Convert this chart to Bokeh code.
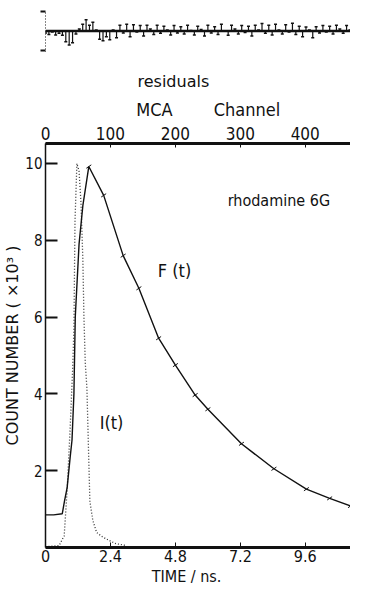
from bokeh.plotting import figure
from bokeh.models import Range1d, LinearAxis, FixedTicker, Label, Span
from bokeh.layouts import column
from bokeh.embed import file_html
from bokeh.resources import INLINE

# ---- data ----
# fluorescence decay F(t): time (ns), counts (x10^3)
f_time = [0.0, 0.3, 0.62, 0.7, 0.8, 0.91, 0.98, 1.05, 1.1, 1.24, 1.38, 1.6,
          2.15, 2.87, 3.45, 4.18, 4.8, 5.53, 6.0, 7.24, 8.44, 9.64, 10.5, 11.27]
f_counts = [0.85, 0.85, 0.88, 1.2, 1.56, 2.34, 2.8, 4.0, 6.0, 7.9, 8.9, 9.92,
            9.17, 7.6, 6.75, 5.45, 4.75, 3.97, 3.6, 2.7, 2.05, 1.52, 1.28, 1.08]
# lamp profile I(t)
i_time = [0.0, 0.5, 0.69, 0.8, 0.91, 1.0, 1.05, 1.09, 1.16, 1.24, 1.31, 1.38,
          1.42, 1.47, 1.53, 1.6, 1.64, 1.75, 1.89, 2.1, 2.36, 2.6, 3.0]
i_counts = [0.02, 0.05, 0.3, 1.5, 3.1, 4.6, 5.7, 8.5, 10.0, 9.8, 9.0, 7.5,
            6.0, 4.8, 4.15, 2.26, 1.2, 0.7, 0.39, 0.28, 0.18, 0.1, 0.05]
# weighted residuals, one value every 0.125 ns from t = 0
res_step = 0.125
res_values = [-0.10, -0.18, -0.05, -0.20, -0.12, -0.22, -0.55, -0.72, -0.60, -0.15,
              0.10, 0.35, 0.58, 0.30, 0.45, 0.05, -0.42, -0.50, -0.30, -0.45,
              0.05, -0.35, 0.30, -0.10, 0.35, -0.30, 0.32, -0.05, 0.28, -0.25,
              0.30, 0.10, -0.18, 0.30, -0.12, 0.25, 0.05, -0.20, 0.28, -0.10,
              0.22, -0.15, 0.30, 0.02, -0.20, 0.25, 0.08, -0.25, 0.30, -0.10,
              0.22, -0.18, 0.35, 0.00, -0.22, 0.30, 0.10, -0.15, 0.28, -0.08,
              0.25, -0.25, 0.30, 0.05, 0.38, -0.12, 0.30, -0.20, 0.35, 0.05,
              -0.15, 0.32, -0.05, 0.40, -0.18, 0.25, -0.30, 0.20, 0.05, -0.35,
              0.22, -0.10, 0.28, -0.05, 0.25, -0.15, 0.30, 0.10, -0.12, 0.28, 0.05]
res_time = [i * res_step for i in range(len(res_values))]

time_ticks = [0, 2.4, 4.8, 7.2, 9.6]
channel_ticks = [0, 100, 200, 300, 400]
count_ticks = [2, 4, 6, 8, 10]
res_ticks = [-1, 1]

FONT = "DejaVu Sans Condensed"
FONT2 = "DejaVu Sans"
W = 350
INK = "#111111"
NB = "\u00a0"

x_range = Range1d(0, 11.27)

# ---- residual panel ----
res = figure(width=W, height=52, x_range=x_range, y_range=Range1d(-1.10, 1.05),
             output_backend="svg", toolbar_location=None,
             x_axis_location=None, y_axis_location=None,
             min_border_left=40, min_border_right=0, min_border_top=10, min_border_bottom=0)
res.outline_line_color = None
res.grid.visible = False
rax = LinearAxis(ticker=FixedTicker(ticks=res_ticks), major_tick_out=5, major_tick_in=0,
                 major_tick_line_width=2, major_tick_line_color=INK,
                 axis_line_dash="1 2", axis_line_color=INK,
                 major_label_text_font_size="1px", major_label_text_color=None,
                 minor_tick_line_color=None)
res.add_layout(rax, "left")
res.add_layout(Span(location=0, dimension="width", line_color=INK, line_width=2.5))
res.segment(res_time, [0] * len(res_time), res_time, res_values, line_color=INK, line_width=1.2)
res.scatter(res_time, res_values, marker="dash", size=3, line_color=INK, line_width=1.5)

# ---- main panel ----
p = figure(width=W, height=536, x_range=x_range, y_range=Range1d(0, 10.52),
           output_backend="svg", toolbar_location=None,
           x_axis_location=None, y_axis_location=None,
           min_border_left=40, min_border_right=0, min_border_top=91, min_border_bottom=41)
p.outline_line_color = None
p.grid.visible = False
p.extra_x_ranges = {"mca": Range1d(0, 310 / 0.66)}

common = dict(minor_tick_line_color=None, axis_line_color=INK, major_tick_line_color=INK,
              major_label_text_font=FONT, major_label_text_color=INK,
              axis_label_text_font=FONT, axis_label_text_font_style="normal",
              axis_label_text_color=INK)

bottom = LinearAxis(ticker=FixedTicker(ticks=time_ticks), axis_label="TIME / ns." + NB * 5,
                    major_tick_in=5, major_tick_out=0, axis_line_width=3,
                    major_label_text_font_size="16px", major_label_standoff=2,
                    axis_label_text_font_size="16px", axis_label_standoff=2, **common)
p.add_layout(bottom, "below")

top = LinearAxis(x_range_name="mca", ticker=FixedTicker(ticks=channel_ticks),
                 axis_label=NB * 4 + "MCA" + NB * 8 + "Channel",
                 major_tick_in=4, major_tick_out=0, axis_line_width=3,
                 major_label_text_font_size="17px", major_label_standoff=4,
                 axis_label_text_font_size="18px", axis_label_standoff=4, **common)
p.add_layout(top, "above")

left = LinearAxis(ticker=FixedTicker(ticks=count_ticks), axis_label="COUNT NUMBER ( \u00d710\u00b3 )",
                  major_tick_in=12, major_tick_out=0, axis_line_width=1.5,
                  major_tick_line_width=2,
                  major_label_text_font_size="15px", major_label_standoff=3,
                  axis_label_text_font_size="16px", axis_label_standoff=0, **common)
left.axis_label_text_font = FONT2
p.add_layout(left, "left")

p.title.text = "residuals"
p.title.align = "left"
p.title.offset = 92
p.title.text_font = FONT2
p.title.text_font_size = "16px"
p.title.text_font_style = "normal"
p.title.text_color = INK

p.line(i_time, i_counts, line_color="#333333", line_width=1.3, line_dash="1 2")
p.line(f_time, f_counts, line_color=INK, line_width=1.4)
p.scatter(f_time[11:], f_counts[11:], marker="dash", angle=0.6, size=6, line_color=INK)

lab = dict(text_font=FONT, text_font_size="16px", text_color=INK, text_baseline="middle")
p.add_layout(Label(x=6.73, y=9.04, text="rhodamine 6G", **lab))
p.add_layout(Label(x=4.15, y=7.2, text="F (t)", **dict(lab, text_font_size="18px")))
p.add_layout(Label(x=2.0, y=3.26, text="I(t)", **dict(lab, text_font_size="18px")))

layout = column(res, p, spacing=0)
open("out.html", "w").write(file_html(layout, INLINE))
